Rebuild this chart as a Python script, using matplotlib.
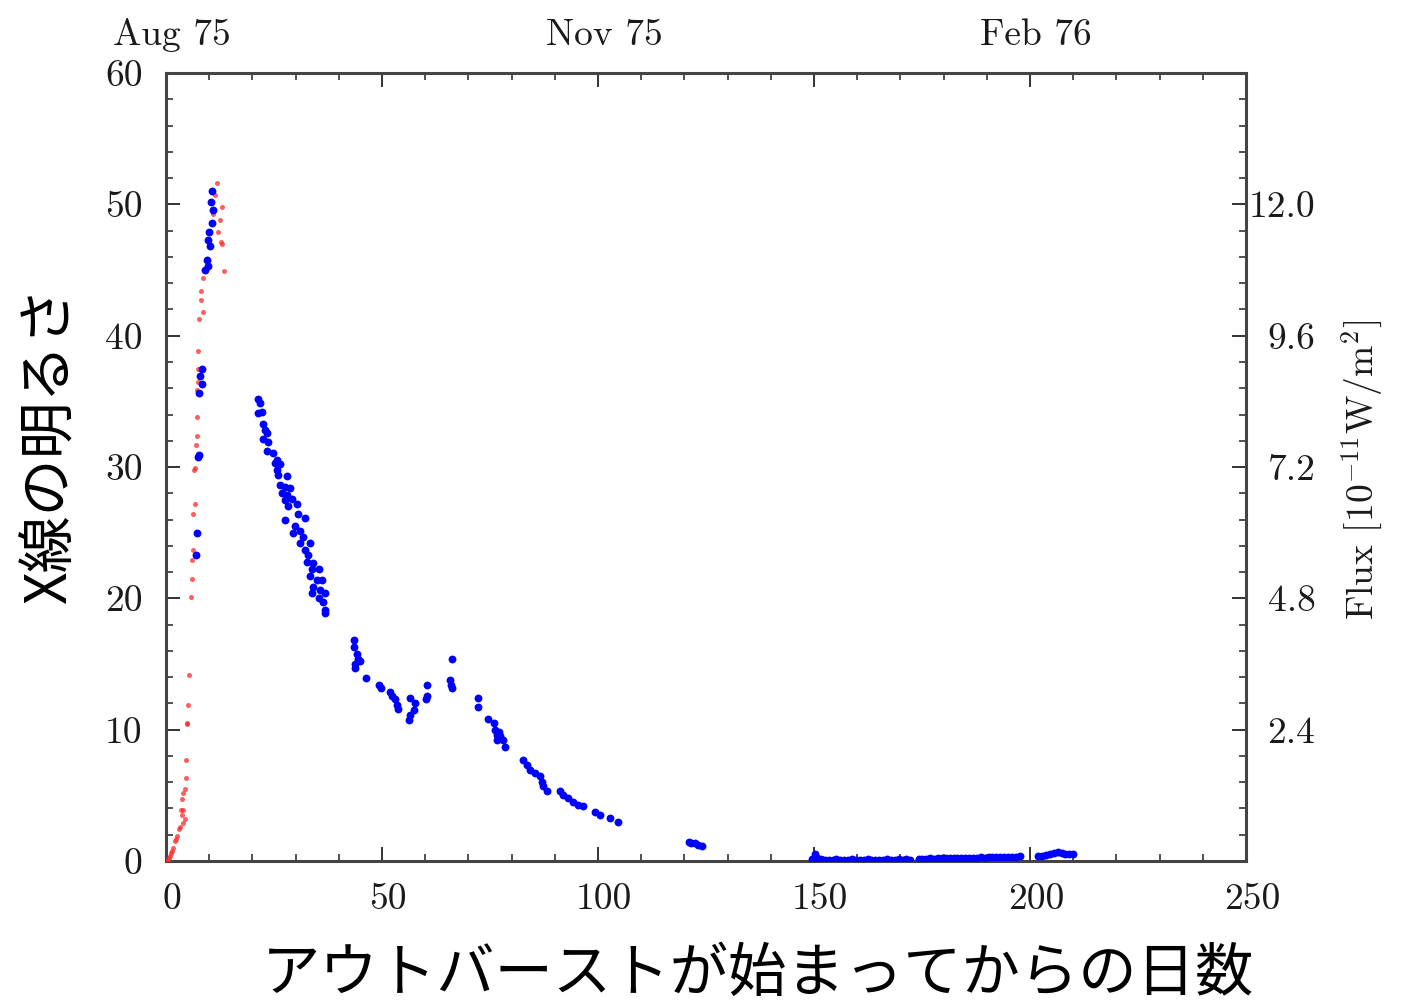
import matplotlib.pyplot as plt
from matplotlib.ticker import MultipleLocator, FixedLocator
from matplotlib.transforms import ScaledTranslation

# fonts: Computer Modern look for the chart, CJK for the Japanese axis titles
plt.rcParams['font.family'] = 'cmr10'
plt.rcParams['mathtext.fontset'] = 'cm'
plt.rcParams['axes.unicode_minus'] = False
jp_font = ['Noto Sans CJK JP', 'DejaVu Sans']

# Rise (red, small dots)
red_day = [0.3, 0.5, 0.7, 0.9, 1.1, 1.4, 1.7, 2.1, 2.4, 2.6, 2.9, 3.2, 3.9, 4.4, 3.8,
           3.5, 4.0, 3.8, 4.0, 4.4, 4.6, 4.6, 4.8, 4.9, 5.0, 5.3, 5.7, 5.9, 6.0, 6.2,
           6.3, 6.6, 6.6, 6.5, 6.9, 7.1, 7.1, 7.1, 7.5, 7.5, 7.5, 7.7, 8.6, 8.2, 8.2,
           8.6, 13.4, 12.9, 12.7, 12.1, 12.5, 12.9, 11.3, 11.7, 10.9]
red_val = [0.0, 0.1, 0.2, 0.4, 0.6, 0.8, 1.0, 1.5, 1.7, 1.9, 2.4, 2.6, 2.9, 3.2, 3.5,
           3.9, 3.9, 4.7, 5.2, 5.5, 6.3, 7.7, 10.4, 10.5, 11.9, 14.2, 20.1, 21.5, 22.9, 23.7,
           26.4, 27.2, 29.9, 29.8, 31.7, 32.4, 33.8, 35.9, 36.5, 37.5, 38.8, 41.3, 41.8, 42.7, 43.4,
           44.4, 44.9, 47.0, 47.1, 47.9, 48.8, 49.8, 50.7, 51.6, 49.3]

# Peak and decay (blue, larger dots)
blue_day = [6.9, 7.1, 7.5, 7.6, 7.7, 8.3, 7.9, 8.3, 9.0, 9.8, 9.4, 10.2, 9.8, 10.0, 10.6,
            10.8, 10.4, 10.6,
            21.4, 21.8, 22.1, 21.4, 22.5, 22.9, 23.3, 22.5, 23.7, 23.3, 24.8, 25.6, 25.2,
            26.4, 25.6, 26.0, 27.9, 26.4, 27.5, 28.7, 26.8, 27.9, 27.5, 29.1, 28.3, 30.2,
            27.5, 30.6, 32.2, 29.9, 31.0, 29.5, 31.8, 31.0, 33.3, 32.2, 32.9, 32.6, 34.1,
            33.7, 35.3, 33.3, 34.9, 36.0, 34.1, 35.6, 36.8, 33.7, 35.3, 36.4, 36.8, 36.8,
            43.4, 43.4, 44.1, 44.5, 44.9, 43.8, 43.8, 46.3, 49.4, 49.7, 51.9, 52.2, 53.0,
            53.4, 53.8, 56.5, 57.6, 57.3, 56.5, 56.3, 60.3, 60.3, 60.2, 66.1, 65.7, 65.9,
            66.1, 72.3, 72.3, 74.6, 75.9, 76.2, 76.5, 77.3, 78.1, 78.5, 76.5, 77.0, 82.7,
            83.5, 84.3, 85.4, 86.6, 87.0, 87.3, 88.1, 91.2, 92.0, 93.1, 94.3, 95.4, 96.6,
            99.3, 100.5, 102.8, 104.7,
            121.0, 121.6, 122.4, 123.2, 124.0,
            149.5, 150.2, 150.8, 151.6, 152.5, 153.4, 154.3, 155.2, 156.1, 157.0, 157.9,
            158.8, 159.7, 160.6, 161.5, 162.4, 163.3, 164.2, 165.1, 166.0, 166.9, 167.8,
            168.7, 169.6, 170.5, 171.4, 172.3,
            174.2, 175.1, 176.0, 176.9, 177.8, 178.7, 179.6, 180.5, 181.4, 182.3, 183.2,
            184.1, 185.0, 185.9, 186.8, 187.7, 188.6, 189.5, 190.4, 191.3, 192.2, 193.1,
            194.0, 194.9, 195.8, 196.7, 197.6,
            201.9, 202.8, 203.7, 204.6, 205.5, 206.4, 207.3, 208.2, 209.1, 210.0]
blue_val = [23.3, 25.0, 30.8, 30.9, 35.6, 36.3, 36.9, 37.5, 45.0, 45.3, 45.8, 46.8, 47.3, 47.9,
            48.6, 49.6, 50.2, 51.0,
            35.2, 34.9, 34.2, 34.1, 33.3, 32.8, 32.6, 32.1, 31.9, 31.2, 31.1, 30.5, 30.3,
            30.2, 29.8, 29.4, 29.3, 28.6, 28.5, 28.4, 28.0, 27.9, 27.5, 27.6, 27.0, 27.2,
            26.0, 26.4, 26.1, 25.5, 25.1, 25.0, 24.7, 24.2, 24.2, 23.7, 23.3, 22.8, 22.7,
            22.2, 22.2, 21.7, 21.4, 21.4, 20.9, 20.6, 20.4, 20.4, 20.0, 19.7, 19.1, 18.9,
            16.8, 16.3, 15.8, 15.4, 15.2, 15.0, 14.7, 13.9, 13.4, 13.2, 12.9, 12.6, 12.3,
            11.9, 11.6, 12.4, 12.0, 11.5, 11.1, 10.7, 13.4, 12.6, 12.3, 15.4, 13.8, 13.4,
            13.2, 12.4, 11.7, 10.8, 10.5, 10.0, 9.6, 9.5, 9.2, 8.7, 9.2, 9.8, 7.7,
            7.3, 6.9, 6.7, 6.5, 6.0, 5.7, 5.3, 5.3, 5.0, 4.8, 4.5, 4.3, 4.2,
            3.75, 3.5, 3.25, 3.0,
            1.45, 1.40, 1.35, 1.25, 1.15,
            0.15, 0.5, 0.2, 0.12, 0.1, 0.08, 0.1, 0.12, 0.1, 0.08, 0.1,
            0.12, 0.1, 0.08, 0.1, 0.12, 0.1, 0.1, 0.08, 0.1, 0.12, 0.1,
            0.1, 0.12, 0.1, 0.12, 0.1,
            0.15, 0.18, 0.15, 0.2, 0.18, 0.2, 0.22, 0.2, 0.22, 0.2, 0.22,
            0.25, 0.22, 0.25, 0.22, 0.25, 0.28, 0.25, 0.28, 0.3, 0.28, 0.3,
            0.3, 0.32, 0.3, 0.32, 0.35,
            0.35, 0.4, 0.45, 0.5, 0.6, 0.65, 0.6, 0.55, 0.5, 0.5]

flux_ticks = [2.4, 4.8, 7.2, 9.6, 12.0]
top_ticks = [0, 100, 200]
top_labels = ['Aug 75', 'Nov 75', 'Feb 76']

txt_color = '#1a1a1a'

fig = plt.figure(figsize=(14.06, 10.02), dpi=100)
ax = fig.add_axes([0.1181, 0.1407, 0.7681, 0.7864])

ax.scatter(red_day, red_val, s=13, color='#ff2a2a', alpha=0.75, linewidths=0, zorder=3)
ax.scatter(blue_day, blue_val, s=32, color='#0000ff', linewidths=0, zorder=4)

ax.set_xlim(0, 250)
ax.set_ylim(0, 60)
ax.xaxis.set_major_locator(MultipleLocator(50))
ax.xaxis.set_minor_locator(MultipleLocator(10))
ax.yaxis.set_major_locator(MultipleLocator(10))
ax.yaxis.set_minor_locator(MultipleLocator(2))
ax.tick_params(which='both', direction='in', top=True, right=True, colors='#333333',
               labelcolor=txt_color, labelsize=27)
ax.tick_params(which='major', length=10, width=1.4)
ax.tick_params(which='minor', length=5, width=1.2)
ax.tick_params(axis='x', pad=16)
ax.tick_params(axis='y', pad=17)
for sp in ax.spines.values():
    sp.set_linewidth(2.2)
    sp.set_color('#444444')

# the original's day labels sit a few pixels right of their ticks
shift = ScaledTranslation(6 / 100, 0, fig.dpi_scale_trans)
for lab in ax.get_xticklabels():
    lab.set_transform(lab.get_transform() + shift)

# right axis: flux scale
sec_y = ax.secondary_yaxis('right', functions=(lambda v: v * 0.24, lambda v: v / 0.24))
sec_y.yaxis.set_major_locator(FixedLocator(flux_ticks))
sec_y.set_yticklabels([f'{t:.1f}' for t in flux_ticks])
sec_y.tick_params(length=0, labelsize=27, labelcolor=txt_color, pad=50)
for lab in sec_y.get_yticklabels():
    lab.set_horizontalalignment('right')
sec_y.spines['right'].set_visible(False)

# top axis: calendar months
sec_x = ax.secondary_xaxis('top')
sec_x.set_xticks(top_ticks)
sec_x.set_xticklabels(top_labels)
sec_x.tick_params(length=0, labelsize=27, labelcolor=txt_color, pad=15)
sec_x.spines['top'].set_visible(False)
for lab in sec_x.get_xticklabels():
    lab.set_transform(lab.get_transform() + shift)

fig.text(0.9687, 0.531, r'Flux [$10^{-11}$W/m$^2$]', rotation=90, fontsize=27,
         color=txt_color, ha='center', va='center')

fig.text(0.036, 0.556, 'X線の明るさ', rotation=90, fontsize=41, family=jp_font,
         ha='center', va='center')
fig.text(0.539, 0.028, 'アウトバーストが始まってからの日数', fontsize=42, family=jp_font,
         ha='center', va='center')

fig.savefig('out.png', dpi=100, facecolor='white')
